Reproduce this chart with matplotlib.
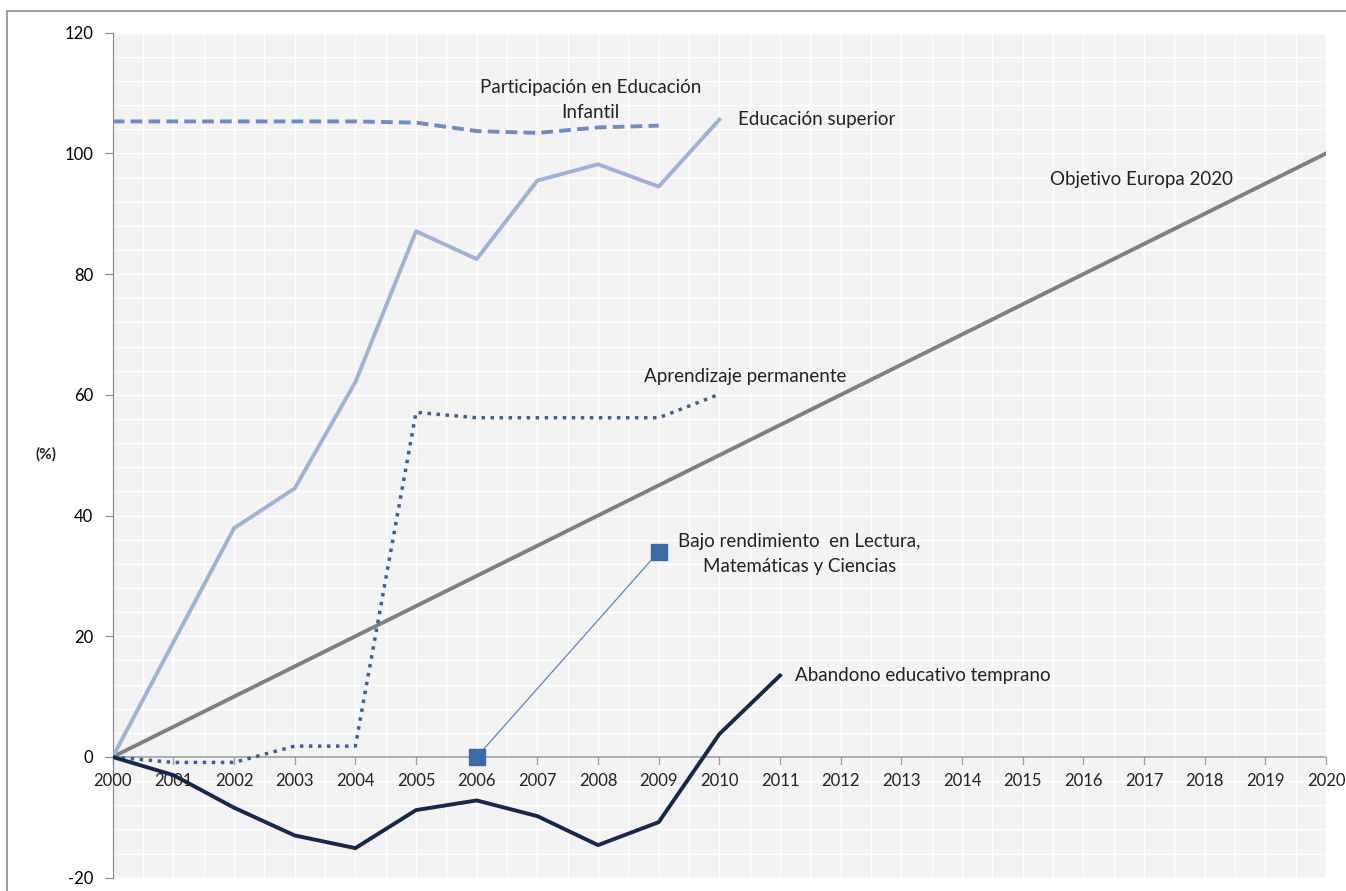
import matplotlib.pyplot as plt
from matplotlib.patches import Rectangle

plt.rcParams['font.family'] = ['Lato', 'DejaVu Sans']
plt.rcParams['axes.unicode_minus'] = False

# series
years_sup = [2000, 2001, 2002, 2003, 2004, 2005, 2006, 2007, 2008, 2009, 2010]
edu_superior = [0, 19, 37.9, 44.5, 62.1, 87.1, 82.5, 95.5, 98.2, 94.5, 105.6]

years_inf = [2000, 2001, 2002, 2003, 2004, 2005, 2006, 2007, 2008, 2009]
edu_infantil = [105.3, 105.3, 105.3, 105.3, 105.3, 105.1, 103.7, 103.4, 104.3, 104.6]

years_apr = [2000, 2001, 2002, 2003, 2004, 2005, 2006, 2007, 2008, 2009, 2010]
aprendizaje = [0, -0.9, -0.9, 1.8, 1.8, 57.1, 56.2, 56.2, 56.2, 56.2, 60.1]

years_bajo = [2006, 2009]
bajo_rend = [0, 34]

years_aband = [2000, 2001, 2002, 2003, 2004, 2005, 2006, 2007, 2008, 2009, 2010, 2011]
abandono = [0, -3.0, -8.4, -13.0, -15.1, -8.8, -7.2, -9.8, -14.6, -10.8, 3.8, 13.5]

years_obj = [2000, 2020]
objetivo = [0, 100]

fig = plt.figure(figsize=(13.46, 8.91), dpi=100)
ax = fig.add_axes([112.7 / 1346, 1 - 877.7 / 891, (1326 - 112.7) / 1346, (877.7 - 32.7) / 891])

# outer frame of the chart area
fig.patches.append(Rectangle((7 / 1346, -0.05), 1.1, 1 - 11 / 891 + 0.05,
                             transform=fig.transFigure, fill=False,
                             edgecolor='#8c8c8c', linewidth=1.2))

ax.set_facecolor('#f2f2f2')
ax.set_xlim(2000, 2020)
ax.set_ylim(-20, 120)

# white grid
for gx in [2000 + 0.5 * i for i in range(41)]:
    ax.axvline(gx, color='white', linewidth=1, zorder=0)
for gy in range(-20, 121, 4):
    ax.axhline(gy, color='white', linewidth=1, zorder=0)

for s in ['top', 'right', 'bottom']:
    ax.spines[s].set_visible(False)
ax.spines['left'].set_color('#868686')

ax.axhline(0, color='#a0a0a0', linewidth=1.2, zorder=1)
ax.set_xticks([])
ax.set_yticks(range(-20, 121, 20))
ax.tick_params(axis='y', direction='out', length=6, color='#868686', labelsize=12, pad=8)

# x ticks on the zero line
for yr in range(2000, 2021):
    ax.plot([yr, yr], [0, -1.1], color='#a0a0a0', linewidth=1, zorder=1, clip_on=False)
    ax.text(yr, -2.6, str(yr), ha='center', va='top', fontsize=12, color='#222222')

ax.plot(years_obj, objetivo, color='#808080', linewidth=2.8, zorder=3)
ax.plot(years_sup, edu_superior, color='#9db2d6', linewidth=2.8, zorder=3)
ax.plot(years_inf, edu_infantil, color='#6b8cc4', linewidth=2.8, linestyle=(0, (3, 1.6)), zorder=3)
ax.plot(years_apr, aprendizaje, color='#3a5f98', linewidth=2.5, linestyle=(0, (1, 1.6)), zorder=3)
ax.plot(years_bajo, bajo_rend, color='#5b85c4', linewidth=0.9, marker='s', markersize=12,
        markerfacecolor='#3c6aa8', markeredgecolor='#3c6aa8', zorder=4)
ax.plot(years_aband, abandono, color='#17294a', linewidth=2.8, zorder=3)

tk = dict(fontsize=13.5, color='#222222')
ax.text(2007.88, 108.9, 'Participación en Educación\nInfantil', ha='center', va='center', linespacing=1.55, **tk)
ax.text(2010.3, 105.6, 'Educación superior', ha='left', va='center', **tk)
ax.text(2015.45, 95.6, 'Objetivo Europa 2020', ha='left', va='center', **tk)
ax.text(2008.75, 63.1, 'Aprendizaje permanente', ha='left', va='center', **tk)
ax.text(2011.32, 33.6, 'Bajo rendimiento  en Lectura,\nMatemáticas y Ciencias', ha='center', va='center',
        linespacing=1.55, **tk)
ax.text(2011.25, 13.5, 'Abandono educativo temprano', ha='left', va='center', **tk)
ax.text(-67 / (1326 - 112.7), 0.501, '(%)', transform=ax.transAxes, ha='center', va='center',
        fontsize=11, fontweight='bold', color='#222222')

fig.savefig('out.png', dpi=100)
